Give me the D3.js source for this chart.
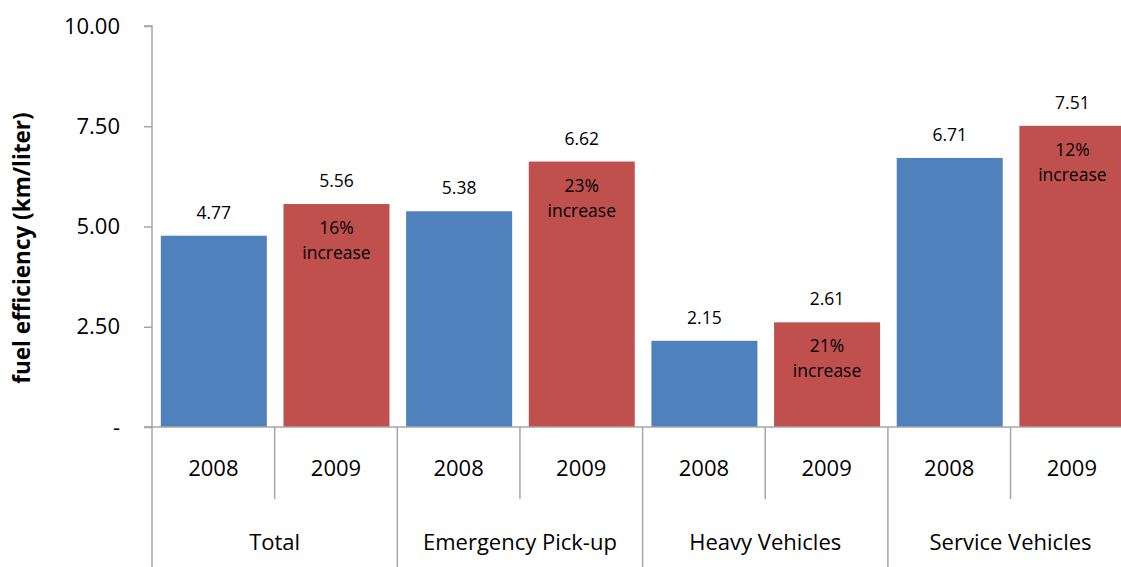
<!DOCTYPE html>
<meta charset="utf-8">
<style>
    body { margin: 0; background: #fff; }
    text { font-family: "Open Sans", "Noto Sans", sans-serif; fill: #000; }
    .axis line, .axis path { stroke: #a6a6a6; stroke-width: 1.5px; }
</style>
<svg width="1121" height="567"></svg>
<script src="https://d3js.org/d3.v7.min.js"></script>
<script>
    // chart data
    const categories = ["Total", "Emergency Pick-up", "Heavy Vehicles", "Service Vehicles"];
    const years = ["2008", "2009"];
    const values2008 = [4.77, 5.38, 2.15, 6.71];
    const values2009 = [5.56, 6.62, 2.61, 7.51];
    const increases = ["16%", "23%", "21%", "12%"];
    const yTicks = [0, 2.5, 5, 7.5, 10];

    const svg = d3.select("svg");
    const colors = { "2008": "#4f81bd", "2009": "#c0504d" };

    const plotLeft = 152, baseline = 427, plotTop = 26;
    const groupWidth = 245.3;

    const y = d3.scaleLinear().domain([0, 10]).range([baseline, plotTop]);
    const x0 = d3.scaleBand().domain(categories)
        .range([plotLeft, plotLeft + groupWidth * categories.length]);
    const x1 = d3.scaleBand().domain(years).range([0, x0.bandwidth()]);

    const rows = [];
    categories.forEach(function (c, i) {
        rows.push({ cat: c, year: "2008", value: values2008[i] });
        rows.push({ cat: c, year: "2009", value: values2009[i], inc: increases[i] });
    });

    // bars
    const barW = 106;
    const bars = svg.append("g").selectAll("g")
        .data(rows)
        .enter().append("g")
        .attr("transform", function (d) {
            return "translate(" + (x0(d.cat) + x1(d.year) + (x1.bandwidth() - barW) / 2 + 0.5) + ",0)";
        });

    bars.append("rect")
        .attr("width", barW)
        .attr("y", function (d) { return y(d.value); })
        .attr("height", function (d) { return baseline - y(d.value); })
        .attr("fill", function (d) { return colors[d.year]; });

    bars.append("text")
        .attr("x", barW / 2)
        .attr("y", function (d) { return y(d.value) - 17; })
        .attr("text-anchor", "middle")
        .style("font-size", "17.5px")
        .text(function (d) { return d.value.toFixed(2); });

    const inc = bars.filter(function (d) { return d.inc; });
    inc.append("text")
        .attr("x", barW / 2)
        .attr("y", function (d) { return y(d.value) + 30; })
        .attr("text-anchor", "middle")
        .style("font-size", "17.5px")
        .text(function (d) { return d.inc; });
    inc.append("text")
        .attr("x", barW / 2)
        .attr("y", function (d) { return y(d.value) + 55; })
        .attr("text-anchor", "middle")
        .style("font-size", "17.5px")
        .text("increase");

    // y axis
    const yAxis = svg.append("g")
        .attr("class", "axis")
        .attr("transform", "translate(" + plotLeft + ",0)")
        .call(d3.axisLeft(y).tickValues(yTicks).tickSize(8).tickPadding(24)
            .tickFormat(function (d) { return d === 0 ? "-" : d.toFixed(2); }));
    yAxis.selectAll("text").style("font-size", "22px").style("font-family", "\"Open Sans\", sans-serif");
    yAxis.select(".domain").attr("d", "M-8," + plotTop + "H0V" + baseline + "H-8");

    // x axis line
    svg.append("line")
        .attr("x1", plotLeft - 8).attr("x2", 1121)
        .attr("y1", baseline).attr("y2", baseline)
        .attr("stroke", "#a6a6a6").attr("stroke-width", 1.5);

    // group separators and inner year separators
    const sep = svg.append("g");
    categories.forEach(function (c) {
        sep.append("line")
            .attr("x1", x0(c)).attr("x2", x0(c))
            .attr("y1", baseline).attr("y2", 567)
            .attr("stroke", "#a6a6a6").attr("stroke-width", 1.5);
        sep.append("line")
            .attr("x1", x0(c) + x1("2009")).attr("x2", x0(c) + x1("2009"))
            .attr("y1", baseline).attr("y2", 499)
            .attr("stroke", "#a6a6a6").attr("stroke-width", 1.5);
    });

    // year labels
    svg.append("g").selectAll("text")
        .data(rows)
        .enter().append("text")
        .attr("x", function (d) { return x0(d.cat) + x1(d.year) + x1.bandwidth() / 2; })
        .attr("y", 476)
        .attr("text-anchor", "middle")
        .style("font-size", "22px")
        .text(function (d) { return d.year; });

    // category labels
    svg.append("g").selectAll("text")
        .data(categories)
        .enter().append("text")
        .attr("x", function (d) { return x0(d) + x0.bandwidth() / 2; })
        .attr("y", 550)
        .attr("text-anchor", "middle")
        .style("font-size", "22px")
        .text(function (d) { return d; });

    // y title
    svg.append("text")
        .attr("transform", "translate(30,248) rotate(-90)")
        .attr("text-anchor", "middle")
        .style("font-size", "22.5px")
        .style("font-weight", "bold")
        .text("fuel efficiency (km/liter)");
</script>
